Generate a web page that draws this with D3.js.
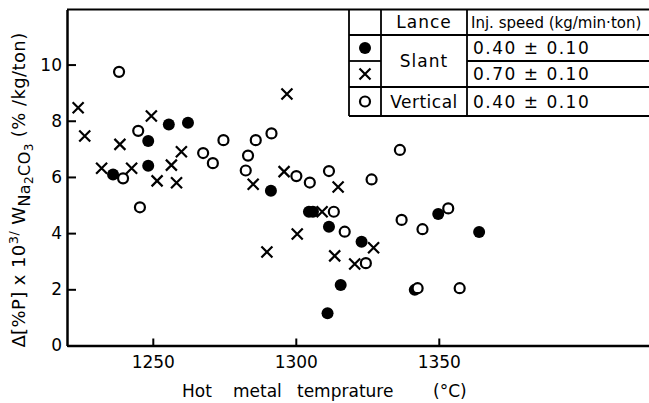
<!DOCTYPE html>
<html>
<head>
<meta charset="utf-8">
<script src="https://cdn.jsdelivr.net/npm/d3@7"></script>
<style>
  html, body { margin: 0; padding: 0; background: #fff; }
  svg { display: block; font-family: "DejaVu Sans", sans-serif; }
</style>
</head>
<body>
<div id="chart"></div>
<script>
// data: [hot metal temperature (degC), value]
const slantLow = [
  [1236.1, 6.09], [1248.4, 7.28], [1248.4, 6.40], [1255.6, 7.87], [1262.3, 7.93],
  [1291.3, 5.51], [1304.6, 4.76], [1306.0, 4.76], [1311.6, 4.23], [1323.0, 3.69],
  [1315.7, 2.15], [1311.1, 1.15], [1349.8, 4.68], [1364.1, 4.04], [1341.6, 1.98]
];
const slantHigh = [
  [1223.9, 8.46], [1226.2, 7.46], [1232.1, 6.31], [1238.5, 7.16], [1242.6, 6.31],
  [1249.5, 8.17], [1251.5, 5.86], [1256.5, 6.42], [1258.3, 5.79], [1260.0, 6.90],
  [1285.1, 5.74], [1295.9, 6.19], [1296.9, 8.95], [1289.9, 3.33], [1300.5, 3.97],
  [1314.8, 5.64], [1309.2, 4.76], [1313.6, 3.19], [1320.6, 2.90], [1327.2, 3.48]
];
const vertical = [
  [1238.2, 9.74], [1244.9, 7.64], [1239.6, 5.95], [1245.5, 4.92], [1267.6, 6.85],
  [1271.0, 6.49], [1274.7, 7.31], [1283.3, 6.76], [1282.5, 6.23], [1286.0, 7.31],
  [1291.5, 7.55], [1300.2, 6.03], [1304.9, 5.80], [1311.6, 6.21], [1326.5, 5.91],
  [1313.3, 4.76], [1317.1, 4.05], [1324.5, 2.93], [1336.4, 6.96], [1337.0, 4.47],
  [1344.3, 4.14], [1353.3, 4.88], [1342.6, 2.04], [1357.3, 2.04]
];
const tempTicks = [1250, 1300, 1350];
const valueTicks = [0, 2, 4, 6, 8, 10];
const headerLabels = ["Lance", "Inj. speed (kg/min\u00b7ton)"];
const lanceLabels = ["Slant", "Vertical"];
const speedLabels = ["0.40 \u00b1 0.10", "0.70 \u00b1 0.10", "0.40 \u00b1 0.10"];

const W = 649, H = 403;
const svg = d3.select("#chart").append("svg").attr("width", W).attr("height", H);

const x = d3.scaleLinear().domain([1220, 1423.5]).range([67, 649]);
const y = d3.scaleLinear().domain([0, 11.96]).range([345.5, 9.5]);

// top frame line
svg.append("line")
  .attr("x1", x(1220)).attr("x2", W)
  .attr("y1", y(11.96)).attr("y2", y(11.96))
  .attr("stroke", "#000").attr("stroke-width", 2);

const yAxis = svg.append("g")
  .attr("transform", `translate(${x(1220)},0)`)
  .call(d3.axisLeft(y).tickValues(valueTicks).tickSize(-9).tickSizeOuter(0).tickPadding(5)
    .tickFormat(d3.format("d")));

const xAxis = svg.append("g")
  .attr("transform", `translate(0,${y(0)})`)
  .call(d3.axisBottom(x).tickValues(tempTicks).tickSize(-7).tickSizeOuter(0).tickPadding(10)
    .tickFormat(d3.format("d")));

[yAxis, xAxis].forEach(g => {
  g.select(".domain").attr("stroke-width", 2.5);
  g.selectAll(".tick line").attr("stroke-width", 2);
  g.selectAll(".tick text").attr("font-size", 17).attr("fill", "#000")
    .attr("font-family", "DejaVu Sans, sans-serif");
});

// axis titles
const xt = svg.append("text").attr("y", 397).attr("font-size", 17).attr("fill", "#000");
[["Hot", 182], ["metal", 233], ["temprature", 297], ["(\u00b0C)", 433]].forEach(([w, px]) => {
  xt.append("tspan").attr("x", px).text(w);
});

const yt = svg.append("text")
  .attr("transform", "translate(25,190) rotate(-90)")
  .attr("text-anchor", "middle").attr("font-size", 18).attr("letter-spacing", 0.4)
  .attr("fill", "#000");
yt.append("tspan").text("\u0394[%P] x 10");
yt.append("tspan").attr("font-size", 13).attr("dy", -7).text("3/");
yt.append("tspan").attr("dy", 7).text(" W");
yt.append("tspan").attr("font-size", 16).attr("dy", 5).text("Na");
yt.append("tspan").attr("font-size", 12).attr("dy", 3).text("2");
yt.append("tspan").attr("font-size", 16).attr("dy", -3).text("CO");
yt.append("tspan").attr("font-size", 12).attr("dy", 3).text("3");
yt.append("tspan").attr("dy", -8).text(" (% /kg/ton)");

// markers
function drawFilled(g, cx, cy) {
  g.append("circle").attr("cx", cx).attr("cy", cy).attr("r", 6).attr("fill", "#000");
}
function drawCross(g, cx, cy) {
  const s = 5.5;
  g.append("path").attr("d", `M${cx - s},${cy - s}L${cx + s},${cy + s}M${cx - s},${cy + s}L${cx + s},${cy - s}`)
    .attr("stroke", "#000").attr("stroke-width", 2.2).attr("fill", "none");
}
function drawOpen(g, cx, cy) {
  g.append("circle").attr("cx", cx).attr("cy", cy).attr("r", 5)
    .attr("fill", "#fff").attr("stroke", "#000").attr("stroke-width", 2.2);
}

const marks = svg.append("g");
slantLow.forEach(d => drawFilled(marks, x(d[0]), y(d[1])));
slantHigh.forEach(d => drawCross(marks, x(d[0]), y(d[1])));
vertical.forEach(d => drawOpen(marks, x(d[0]), y(d[1])));

// legend table
const tb = svg.append("g").attr("stroke", "#000").attr("stroke-width", 1.8);
const L = 349, C1 = 381, C2 = 467;
const rows = [9.5, 35, 61, 87, 116];
tb.append("line").attr("x1", L).attr("x2", W).attr("y1", rows[1]).attr("y2", rows[1]);
tb.append("line").attr("x1", L).attr("x2", C1).attr("y1", rows[2]).attr("y2", rows[2]);
tb.append("line").attr("x1", C2).attr("x2", W).attr("y1", rows[2]).attr("y2", rows[2]);
tb.append("line").attr("x1", L).attr("x2", W).attr("y1", rows[3]).attr("y2", rows[3]);
tb.append("line").attr("x1", L).attr("x2", W).attr("y1", rows[4]).attr("y2", rows[4]);
[L, C1, C2].forEach(cx => {
  tb.append("line").attr("x1", cx).attr("x2", cx).attr("y1", rows[0]).attr("y2", rows[4]);
});

const mid = i => (rows[i] + rows[i + 1]) / 2;
const lg = svg.append("g");
drawFilled(lg, 365, mid(1));
drawCross(lg, 365, mid(2));
drawOpen(lg, 365, mid(3));

const tt = svg.append("g").attr("font-size", 17).attr("fill", "#000");
tt.append("text").attr("x", (C1 + C2) / 2).attr("y", mid(0)).attr("dy", "0.36em")
  .attr("text-anchor", "middle").attr("letter-spacing", 1).text(headerLabels[0]);
tt.append("text").attr("x", 471).attr("y", mid(0)).attr("dy", "0.36em")
  .attr("font-size", 15).text(headerLabels[1]);
tt.append("text").attr("x", (C1 + C2) / 2).attr("y", rows[2]).attr("dy", "0.36em")
  .attr("text-anchor", "middle").attr("letter-spacing", 1).text(lanceLabels[0]);
tt.append("text").attr("x", (C1 + C2) / 2).attr("y", mid(3)).attr("dy", "0.36em")
  .attr("text-anchor", "middle").attr("letter-spacing", 0.5).text(lanceLabels[1]);
speedLabels.forEach((s, i) => {
  tt.append("text").attr("x", 473).attr("y", mid(i + 1)).attr("dy", "0.36em")
    .attr("letter-spacing", 1.5).text(s);
});
</script>
</body>
</html>
